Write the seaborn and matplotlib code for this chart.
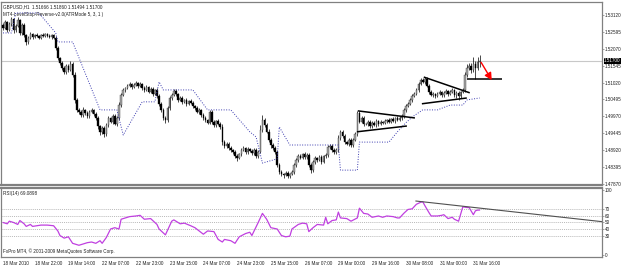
import numpy as np
import matplotlib
matplotlib.use("Agg")
import matplotlib.pyplot as plt
import matplotlib.transforms as mtrans
import seaborn as sns

# ---------------- data ----------------
first_open = 1.5281
closes = [
    1.5272, 1.5290, 1.5265, 1.5284, 1.5300, 1.5265, 1.5278, 1.5296, 1.5256, 1.5281,
    1.5250, 1.5228, 1.5241, 1.5253, 1.5244, 1.5250, 1.5247, 1.5241, 1.5250, 1.5247,
    1.5253, 1.5247, 1.5244, 1.5250, 1.5241, 1.5209, 1.5178, 1.5163, 1.5147, 1.5135,
    1.5154, 1.5141, 1.5160, 1.5126, 1.5048, 1.5017, 1.5011, 1.5001, 1.5017, 1.5008,
    1.4998, 1.5011, 1.5017, 1.5004, 1.4992, 1.4967, 1.4949, 1.4961, 1.4942, 1.4970,
    1.4992, 1.4980, 1.4998, 1.4973, 1.4992, 1.5032, 1.5063, 1.5079, 1.5085, 1.5092,
    1.5098, 1.5088, 1.5095, 1.5101, 1.5092, 1.5098, 1.5085, 1.5079, 1.5088, 1.5073,
    1.5082, 1.5067, 1.5079, 1.5060, 1.5036, 1.5017, 1.4992, 1.4986, 1.5023, 1.5054,
    1.5063, 1.5076, 1.5067, 1.5048, 1.5054, 1.5042, 1.5048, 1.5036, 1.5045, 1.5039,
    1.5029, 1.5023, 1.5011, 1.5017, 1.5001, 1.4992, 1.4986, 1.4977, 1.5011, 1.4980,
    1.4970, 1.4983, 1.4973, 1.4964, 1.4917, 1.4905, 1.4911, 1.4899, 1.4893, 1.4886,
    1.4874, 1.4868, 1.4880, 1.4893, 1.4899, 1.4886, 1.4896, 1.4890, 1.4883, 1.4893,
    1.4874, 1.4886, 1.4955, 1.4986, 1.4970, 1.4949, 1.4924, 1.4908, 1.4899, 1.4886,
    1.4846, 1.4824, 1.4818, 1.4815, 1.4821, 1.4812, 1.4818, 1.4824, 1.4846, 1.4862,
    1.4874, 1.4868, 1.4880, 1.4871, 1.4877, 1.4846, 1.4830, 1.4855, 1.4868, 1.4862,
    1.4871, 1.4855, 1.4874, 1.4877, 1.4902, 1.4905, 1.4893, 1.4886, 1.4893, 1.4930,
    1.4949, 1.4936, 1.4917, 1.4911, 1.4924, 1.4908, 1.4924, 1.4942, 1.5008, 1.4980,
    1.4992, 1.4973, 1.4973, 1.4980, 1.4967, 1.4977, 1.4970, 1.4983, 1.4973, 1.4980,
    1.4977, 1.4983, 1.4986, 1.4980, 1.4989, 1.4983, 1.4992, 1.4986, 1.4992, 1.4998,
    1.5017, 1.5029, 1.5036, 1.5048, 1.5060, 1.5067, 1.5079, 1.5098, 1.5110, 1.5104,
    1.5113, 1.5092, 1.5073, 1.5063, 1.5067, 1.5060, 1.5067, 1.5073, 1.5063, 1.5070,
    1.5076, 1.5067, 1.5073, 1.5079, 1.5063, 1.5070, 1.5060, 1.5073, 1.5079, 1.5126,
    1.5147, 1.5154, 1.5141, 1.5160, 1.5147, 1.5166, 1.5170,
]
upper_wick_pips = [
    5, 6, 4, 7, 5, 3, 6, 8, 4, 6,
    5, 3, 4, 6, 3, 4, 5, 3, 4, 5,
    4, 3, 5, 4, 3, 6, 5, 4, 7, 5,
    6, 4, 8, 5, 10, 7, 6, 5, 8, 4,
    6, 5, 7, 4, 5, 6, 4, 7, 5, 6,
    5, 4, 6, 5, 7, 8, 6, 5, 4, 6,
    5, 4, 6, 5, 3, 6, 4, 5, 6, 4,
    5, 6, 4, 5, 6, 4, 5, 6, 7, 5,
    6, 7, 5, 4, 5, 6, 4, 5, 4, 6,
    5, 4, 6, 5, 4, 6, 5, 4, 6, 7,
    5, 4, 6, 5, 8, 6, 5, 7, 5, 4,
    5, 6, 4, 5, 6, 4, 5, 4, 6, 5,
    6, 7, 15, 15, 7, 6, 8, 5, 6, 7,
    8, 6, 5, 4, 6, 5, 4, 5, 6, 7,
    5, 6, 4, 5, 6, 7, 5, 6, 5, 4,
    5, 6, 4, 5, 7, 6, 5, 6, 5, 8,
    6, 5, 7, 4, 5, 6, 5, 6, 6, 5,
    7, 5, 4, 6, 5, 4, 6, 5, 4, 5,
    4, 5, 4, 6, 4, 5, 4, 5, 6, 5,
    6, 5, 7, 6, 5, 7, 6, 5, 6, 6,
    6, 5, 4, 6, 5, 4, 6, 5, 4, 5,
    5, 4, 6, 5, 4, 5, 6, 4, 5, 9,
    12, 10, 8, 21, 9, 15, 16,
]
lower_wick_pips = [
    6, 5, 7, 4, 6, 8, 5, 4, 7, 5,
    6, 9, 5, 4, 6, 3, 4, 5, 4, 3,
    4, 5, 3, 6, 4, 5, 7, 6, 5, 8,
    5, 6, 4, 7, 9, 8, 6, 7, 5, 6,
    5, 6, 4, 7, 6, 8, 10, 6, 9, 7,
    6, 5, 7, 4, 6, 5, 6, 4, 5, 4,
    5, 6, 4, 5, 6, 4, 5, 6, 4, 5,
    4, 6, 5, 7, 6, 8, 7, 9, 6, 5,
    5, 4, 6, 5, 4, 6, 5, 7, 4, 5,
    6, 5, 4, 6, 5, 7, 6, 5, 4, 6,
    5, 6, 4, 7, 8, 6, 7, 5, 8, 6,
    7, 9, 5, 6, 4, 5, 6, 4, 5, 6,
    5, 6, 4, 7, 6, 5, 7, 8, 6, 7,
    6, 7, 5, 8, 4, 6, 5, 4, 6, 5,
    6, 5, 4, 6, 5, 7, 9, 6, 5, 6,
    5, 7, 4, 5, 6, 5, 7, 6, 5, 6,
    7, 5, 6, 4, 5, 6, 5, 4, 6, 5,
    5, 6, 4, 5, 6, 5, 4, 5, 6, 4,
    5, 4, 6, 5, 4, 5, 6, 4, 5, 6,
    5, 6, 4, 5, 6, 4, 5, 6, 5, 4,
    6, 5, 6, 4, 5, 6, 4, 5, 6, 5,
    5, 6, 4, 5, 6, 8, 12, 6, 5, 5,
    6, 5, 8, 7, 34, 6, 17,
]

# MT4-LevelStop-Reverse (ATR stop) knots: bar index, price
stop_bars = [0, 4, 6, 17, 25, 26, 33, 46, 54, 57, 66, 72, 74, 76, 90, 97, 108,
             117, 120, 123, 130, 131, 136, 159, 160, 168, 169, 183, 187, 191,
             194, 199, 206, 212, 218, 220, 226]
stop_vals = [1.5256, 1.5256, 1.5318, 1.5318, 1.5256, 1.5228, 1.5228, 1.5017,
             1.5017, 1.4939, 1.5042, 1.5042, 1.5104, 1.5079, 1.5079, 1.5017,
             1.5017, 1.4949, 1.4933, 1.4852, 1.4865, 1.4964, 1.4908, 1.4908,
             1.4830, 1.4830, 1.4917, 1.4917, 1.4949, 1.4977, 1.4995, 1.5017,
             1.5017, 1.5032, 1.5032, 1.5048, 1.5054]

# RSI(14)
rsi_bars = [0, 2, 3, 5, 7, 8, 10, 11, 13, 14, 18, 21, 24, 26, 27, 29, 31, 33, 36,
            38, 40, 42, 44, 46, 47, 49, 51, 53, 55, 56, 58, 60, 63, 65, 67, 70,
            71, 73, 74, 77, 78, 80, 81, 84, 86, 89, 91, 93, 95, 97, 100, 102,
            104, 105, 108, 110, 112, 115, 117, 118, 121, 123, 125, 127, 130,
            132, 134, 136, 137, 140, 142, 144, 145, 147, 149, 152, 153, 154,
            156, 158, 159, 160, 163, 165, 168, 169, 171, 173, 175, 178, 180,
            182, 185, 187, 188, 190, 192, 194, 196, 198, 199, 200, 202, 203,
            206, 208, 209, 211, 213, 214, 216, 218, 220, 221, 223, 224, 225, 226]
rsi_vals = [50, 48, 52, 50, 47, 53, 48, 44, 47, 44, 46, 46, 45, 37, 30, 26, 28, 18,
            15, 17, 19, 20, 18, 22, 18, 27, 40, 42, 40, 55, 57, 59, 60, 61, 55,
            56, 53, 47, 40, 31, 38, 52, 54, 48, 49, 45, 42, 37, 32, 37, 36, 24,
            20, 24, 22, 18, 28, 33, 35, 30, 50, 64, 55, 42, 40, 30, 28, 29, 40,
            47, 49, 48, 36, 42, 47, 46, 58, 48, 53, 54, 66, 57, 56, 52, 57, 72,
            64, 63, 58, 60, 58, 60, 59, 57, 57, 64, 70, 71, 78, 81, 82, 76, 65,
            60, 60, 61, 62, 56, 58, 55, 52, 74, 73, 73, 62, 68, 69, 69.0898]

# drawn objects (bar index, price)
tri1_top_bars, tri1_top_vals = [168.2, 195.3], [1.5014, 1.4992]
tri1_bot_bars, tri1_bot_vals = [167.8, 191.5], [1.4949, 1.4967]
tri2_top_bars, tri2_top_vals = [199.5, 221.3], [1.5119, 1.5070]
tri2_bot_bars, tri2_bot_vals = [198.6, 219.9], [1.5036, 1.5054]
level_bars, level_vals = [219.9, 236.5], [1.5113, 1.5113]
arrow_bars, arrow_vals = [226.0, 232.4], [1.5172, 1.5102]
rsi_trend_bars, rsi_trend_vals = [195.7, 285.3], [83.0, 50.8]

price_ticks = [1.53120, 1.52595, 1.52070, 1.51545, 1.51020, 1.50495,
               1.49970, 1.49445, 1.48920, 1.48395, 1.47870]
current_price = 1.51700
rsi_ticks = [0, 30, 40, 50, 60, 70, 100]
rsi_levels = [30, 40, 50, 60, 70]
time_label_bars = [0, 15, 31, 47, 63, 79, 95, 111, 127, 143, 159, 175, 191, 207, 223]
time_labels = ["18 Mar 2010", "18 Mar 22:00", "19 Mar 14:00", "22 Mar 07:00",
               "22 Mar 23:00", "23 Mar 15:00", "24 Mar 07:00", "24 Mar 23:00",
               "25 Mar 15:00", "26 Mar 07:00", "29 Mar 00:00", "29 Mar 16:00",
               "30 Mar 08:00", "31 Mar 00:00", "31 Mar 16:00"]
header = "GBPUSD,H1  1.51666 1.51860 1.51494 1.51700"
indicator_name = "MT4-LevelStop-Reverse-v2.0(ATRMode 5, 3, 1 )"
rsi_name = "RSI(14) 69.0898"
copyright_txt = "FxPro MT4, \u00a9 2001-2009 MetaQuotes Software Corp."

assert len(closes) == len(upper_wick_pips) == len(lower_wick_pips)
assert len(stop_bars) == len(stop_vals) and len(rsi_bars) == len(rsi_vals)

# ---------------- styling ----------------
sns.set_theme(style="white")
plt.rcParams["font.family"] = ["Liberation Sans", "DejaVu Sans"]
FS = 3.3
SPINE = "#808080"

fig = plt.figure(figsize=(6.25, 2.67), dpi=100)
fig.patch.set_facecolor("white")
AX_L, AX_W = 0.0016, 0.9616
ax = fig.add_axes([AX_L, 0.3071, AX_W, 0.6854])
ax2 = fig.add_axes([AX_L, 0.0375, AX_W, 0.2584])

XMIN, XMAX = -0.95, 284.0

# ---------------- candles ----------------
c = np.array(closes)
o = np.array([first_open] + closes[:-1])
idx = np.arange(len(c))
hi = np.maximum(o, c) + np.array(upper_wick_pips) * 1e-4
lo = np.minimum(o, c) - np.array(lower_wick_pips) * 1e-4
ax.vlines(idx, lo, hi, color="black", lw=0.5, zorder=2)
bull = c >= o
body = np.maximum(np.abs(c - o), 0.00008)
ax.bar(idx[bull], body[bull], bottom=np.minimum(o, c)[bull], width=0.75,
       color="#a8a8a8", edgecolor="#202020", linewidth=0.25, zorder=3)
ax.bar(idx[~bull], body[~bull], bottom=np.minimum(o, c)[~bull], width=0.75,
       color="black", edgecolor="black", linewidth=0.25, zorder=3)

# current price line
ax.axhline(current_price, color="#c8c8c8", lw=0.8, zorder=1)

# stop line
sns.lineplot(x=stop_bars, y=stop_vals, ax=ax, color="#3c3cb0", lw=0.7,
             linestyle=(0, (1, 1.6)), estimator=None, sort=False, zorder=4)

# trend lines / objects
for bx, by in [(tri1_top_bars, tri1_top_vals), (tri1_bot_bars, tri1_bot_vals),
               (tri2_top_bars, tri2_top_vals), (tri2_bot_bars, tri2_bot_vals),
               (level_bars, level_vals)]:
    ax.plot(bx, by, color="black", lw=1.1, zorder=5, solid_capstyle="butt")
ax.annotate("", xy=(arrow_bars[1], arrow_vals[1]), xytext=(arrow_bars[0], arrow_vals[0]),
            arrowprops=dict(arrowstyle="-|>,head_length=0.35,head_width=0.18",
                            color="#ff0000", lw=1.0), zorder=6)

ax.set_xlim(XMIN, XMAX)
ax.set_ylim(1.47838, 1.5352)
ax.set_xticks([])
ax.yaxis.tick_right()
ax.set_yticks(price_ticks)
ax.set_yticklabels([f"{v:.5f}" for v in price_ticks])
ax.tick_params(axis="y", direction="out", length=1.5, width=0.5, color=SPINE,
               labelcolor="#202020", labelsize=FS, pad=0.6)
for s in ax.spines.values():
    s.set_color(SPINE)
    s.set_linewidth(0.9)
ax.spines["bottom"].set_linewidth(1.6)
ax.set_xlabel("")
ax.set_ylabel("")

# current price tag
tr = mtrans.blended_transform_factory(ax.transAxes, ax.transData)
ax.text(1.0035, current_price, f"{current_price:.5f}", transform=tr, fontsize=FS,
        color="white", va="center", ha="left", zorder=10, clip_on=False,
        bbox=dict(facecolor="black", edgecolor="none", pad=0.3))

ax.text(0.004, 0.985, header, transform=ax.transAxes, fontsize=FS, va="top",
        ha="left", color="#202020")
ax.text(0.004, 0.945, indicator_name, transform=ax.transAxes, fontsize=FS,
        va="top", ha="left", color="#202020")

# ---------------- RSI panel ----------------
for lv in rsi_levels:
    ax2.axhline(lv, color="#a0a0a0", lw=0.5, ls=(0, (1.5, 1.5)), zorder=1)
sns.lineplot(x=rsi_bars, y=rsi_vals, ax=ax2, color="#c040e0", lw=0.9,
             estimator=None, sort=False, zorder=3)
ax2.plot(rsi_trend_bars, rsi_trend_vals, color="#505050", lw=0.8, zorder=4)

ax2.set_xlim(XMIN, XMAX)
ax2.set_ylim(-3, 103)
ax2.yaxis.tick_right()
ax2.set_yticks(rsi_ticks)
ax2.set_yticklabels([str(v) for v in rsi_ticks])
ax2.tick_params(axis="y", direction="out", length=1.5, width=0.5, color=SPINE,
                labelcolor="#202020", labelsize=FS, pad=0.6)
ax2.set_xticks(time_label_bars)
ax2.set_xticklabels(time_labels, ha="left")
ax2.tick_params(axis="x", direction="out", length=2, width=0.5, color=SPINE,
                labelcolor="#202020", labelsize=FS, pad=1)
for s in ax2.spines.values():
    s.set_color(SPINE)
    s.set_linewidth(0.9)
ax2.spines["top"].set_linewidth(1.6)
ax2.set_xlabel("")
ax2.set_ylabel("")
ax2.text(0.004, 0.95, rsi_name, transform=ax2.transAxes, fontsize=FS, va="top",
         ha="left", color="#202020")
ax2.text(0.004, 0.05, copyright_txt, transform=ax2.transAxes, fontsize=FS,
         va="bottom", ha="left", color="#202020")

fig.savefig("out.png", dpi=100, facecolor="white")
